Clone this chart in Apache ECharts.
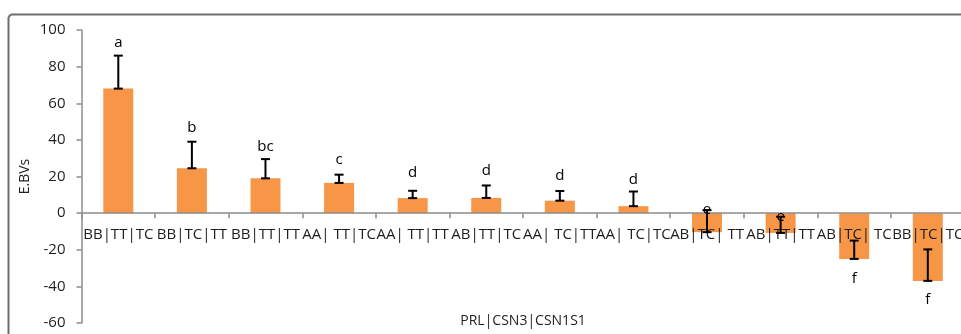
<!DOCTYPE html>
<html>
<head>
<meta charset="utf-8">
<script src="https://cdn.jsdelivr.net/npm/echarts@6/dist/echarts.min.js"></script>
<style>
html,body{margin:0;padding:0;background:#fff;}
#chart{width:961px;height:334px;}
</style>
</head>
<body>
<div id="chart"></div>
<script>
// ---- data ----
const categories = ['BB|TT|TC','BB|TC|TT','BB|TT|TT','AA| TT|TC','AA| TT|TT','AB|TT|TC','AA| TC|TT','AA| TC|TC','AB|TC| TT','AB|TT|TT','AB|TC| TC','BB|TC|TC'];
const ebvValues = [68, 24.5, 19, 16.5, 8.2, 8.3, 6.8, 3.8, -10.4, -10.8, -25, -37];
const errorPlus = [18, 14.5, 10.5, 4.5, 4, 6.8, 5.3, 8, 12, 8.8, 10, 17.2];
const letters = ['a','b','bc','c','d','d','d','d','e','e','f','f'];
const letterY = [93, 46.5, 36, 29, 22, 23, 20.5, 18, 1.6, -2, -35.7, -47.2];
const yTicks = {min: -60, max: 100, interval: 20};

const FONT = 'Open Sans';
const TXT = '#1e1e1e';
const AX = '#8c8c8c';
const FRAME = '#6e6e6e';
const chart = echarts.init(document.getElementById('chart'), null, {renderer: 'canvas'});

const errData = ebvValues.map((v, i) => [i, v, v + errorPlus[i]]);
const letterData = letters.map((t, i) => [i, letterY[i], t]);

const PL = 81.5, PR = -3.6, PT = 30, PB = 11;
const plotH = 334 - PT - PB;
const zeroFromBottom = 334 - (PT + plotH * (yTicks.max / (yTicks.max - yTicks.min)));

chart.setOption({
  animation: false,
  backgroundColor: '#fff',
  graphic: [
    {type: 'line', z: 50, silent: true, shape: {x1: 8.5, y1: 17, x2: 8.5, y2: 334}, style: {stroke: FRAME, lineWidth: 2}},
    {type: 'line', z: 50, silent: true, shape: {x1: 11, y1: 14.5, x2: 961, y2: 14.5}, style: {stroke: FRAME, lineWidth: 2}},
    {type: 'line', z: 50, silent: true, shape: {x1: 8.5, y1: 17, x2: 11, y2: 14.5}, style: {stroke: FRAME, lineWidth: 2}}
  ],
  grid: [
    {left: PL, right: PR, top: PT, bottom: PB, outerBoundsMode: 'none'},
    {left: PL, right: PR, top: PT, bottom: zeroFromBottom, outerBoundsMode: 'none'}
  ],
  xAxis: [
    {type: 'category', gridIndex: 0, data: categories, show: false},
    {
      type: 'category',
      gridIndex: 1,
      data: categories,
      z: 3,
      position: 'bottom',
      axisLine: {onZero: false, lineStyle: {color: AX, width: 1.5}},
      axisTick: {show: true, length: 5, alignWithLabel: false, lineStyle: {color: AX, width: 1.5}},
      axisLabel: {color: TXT, fontFamily: FONT, fontSize: 15, margin: 14, interval: 0, hideOverlap: false},
      name: 'PRL|CSN3|CSN1S1',
      nameLocation: 'middle',
      nameGap: 101,
      nameMoveOverlap: false,
      nameTextStyle: {color: TXT, fontFamily: FONT, fontSize: 14},
      splitLine: {show: false}
    }
  ],
  yAxis: [
    {
      type: 'value',
      gridIndex: 0,
      min: yTicks.min, max: yTicks.max, interval: yTicks.interval,
      axisLine: {show: true, lineStyle: {color: AX, width: 1.5}},
      axisTick: {show: true, length: 5, lineStyle: {color: AX, width: 1.5}},
      axisLabel: {color: TXT, fontFamily: FONT, fontSize: 15, margin: 16},
      splitLine: {show: false},
      name: 'E.BVs',
      nameLocation: 'middle',
      nameGap: 49,
      nameMoveOverlap: false,
      nameRotate: 90,
      nameTextStyle: {color: TXT, fontFamily: FONT, fontSize: 14}
    },
    {type: 'value', gridIndex: 1, show: false, min: 0, max: 1}
  ],
  series: [
    {
      type: 'bar',
      xAxisIndex: 0, yAxisIndex: 0,
      data: ebvValues,
      barWidth: 30,
      itemStyle: {color: '#F79646'},
      z: 2
    },
    {
      type: 'custom',
      xAxisIndex: 0, yAxisIndex: 0,
      data: errData,
      z: 5,
      renderItem: function (params, api) {
        const x = api.value(0);
        const p1 = api.coord([x, api.value(1)]);
        const p2 = api.coord([x, api.value(2)]);
        const hw = 4.5;
        const st = {stroke: '#000', lineWidth: 2};
        return {
          type: 'group',
          children: [
            {type: 'line', shape: {x1: p1[0], y1: p1[1], x2: p2[0], y2: p2[1]}, style: st},
            {type: 'line', shape: {x1: p1[0]-hw, y1: p1[1], x2: p1[0]+hw, y2: p1[1]}, style: st},
            {type: 'line', shape: {x1: p2[0]-hw, y1: p2[1], x2: p2[0]+hw, y2: p2[1]}, style: st}
          ]
        };
      }
    },
    {
      type: 'custom',
      xAxisIndex: 0, yAxisIndex: 0,
      data: letterData,
      z: 6,
      renderItem: function (params, api) {
        const p = api.coord([api.value(0), api.value(1)]);
        return {
          type: 'text',
          x: p[0], y: p[1],
          style: {text: letters[params.dataIndex], fill: '#000', font: '15px "' + FONT + '"', align: 'center', verticalAlign: 'middle'}
        };
      }
    }
  ]
});
</script>
</body>
</html>
